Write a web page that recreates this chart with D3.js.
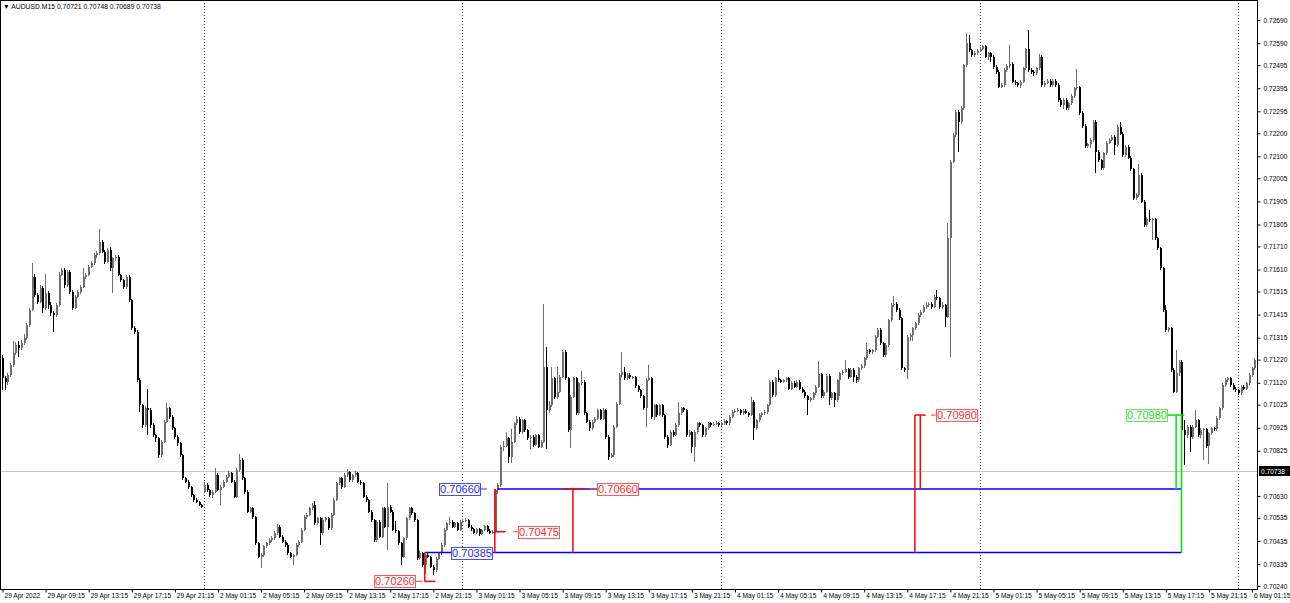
<!DOCTYPE html>
<html>
<head>
<meta charset="utf-8">
<script src="https://cdn.jsdelivr.net/npm/d3@7"></script>
<style>
  body { margin: 0; background: #fff; }
  svg { display: block; }
</style>
</head>
<body>
<div class="container"></div>
<script>
// canvas size and plot frame
const width = 1290;
const height = 603;
const frame = { left: 0.5, top: 0.5, right: 1257.5, bottom: 589.5 };

const titleText = "\u25BC AUDUSD.M15  0.70721 0.70748 0.70689 0.70738";

// M15 bars, 29 Apr 2022 05:15 onwards (index = bar number)
const opens = [0.71226,0.71139,0.71125,0.71154,0.71197,0.71247,0.71284,0.71269,0.71291,0.71312,
0.71370,0.71435,0.71579,0.71500,0.71471,0.71529,0.71442,0.71507,0.71457,0.71421,
0.71413,0.71457,0.71587,0.71608,0.71543,0.71601,0.71514,0.71442,0.71493,0.71514,
0.71536,0.71579,0.71587,0.71623,0.71637,0.71673,0.71680,0.71731,0.71688,0.71644,
0.71695,0.71615,0.71659,0.71666,0.71587,0.71565,0.71536,0.71579,0.71478,0.71356,
0.71341,0.71132,0.71024,0.70937,0.71009,0.71002,0.70937,0.70894,0.70879,0.70807,
0.70865,0.70952,0.71009,0.70973,0.70923,0.70887,0.70858,0.70807,0.70706,0.70692,
0.70670,0.70634,0.70613,0.70605,0.70591,0.70649,0.70677,0.70656,0.70634,0.70649,
0.70721,0.70656,0.70670,0.70692,0.70714,0.70728,0.70692,0.70627,0.70742,0.70786,
0.70706,0.70649,0.70562,0.70576,0.70540,0.70425,0.70367,0.70374,0.70411,0.70425,
0.70439,0.70447,0.70468,0.70497,0.70454,0.70432,0.70418,0.70382,0.70367,0.70374,
0.70418,0.70432,0.70483,0.70540,0.70548,0.70576,0.70591,0.70512,0.70533,0.70468,
0.70526,0.70533,0.70490,0.70548,0.70613,0.70685,0.70706,0.70670,0.70721,0.70735,
0.70699,0.70721,0.70728,0.70692,0.70685,0.70627,0.70613,0.70562,0.70526,0.70439,
0.70519,0.70454,0.70576,0.70497,0.70584,0.70562,0.70483,0.70476,0.70425,0.70367,
0.70447,0.70533,0.70576,0.70555,0.70526,0.70360,0.70381,0.70331,0.70374,0.70367,
0.70323,0.70309,0.70359,0.70381,0.70417,0.70482,0.70511,0.70518,0.70496,0.70511,
0.70482,0.70518,0.70522,0.70525,0.70496,0.70485,0.70471,0.70485,0.70465,0.70482,
0.70499,0.70479,0.70471,0.70475,0.70655,0.70677,0.70843,0.70846,0.70879,0.70799,
0.70864,0.70944,0.70965,0.70908,0.70958,0.70915,0.70879,0.70886,0.70850,0.70893,
0.70843,0.70864,0.71189,0.71002,0.71023,0.71139,0.71059,0.71081,0.71146,0.71254,
0.71139,0.70915,0.71059,0.71139,0.70987,0.71117,0.71124,0.70987,0.70951,0.70922,
0.70951,0.70965,0.71002,0.70965,0.71002,0.70886,0.70799,0.70807,0.70929,0.71030,
0.71153,0.71167,0.71139,0.71153,0.71143,0.71143,0.71105,0.71088,0.71062,0.71009,
0.71134,0.71139,0.70973,0.71023,0.70980,0.71023,0.70980,0.70886,0.70850,0.70908,
0.70893,0.70937,0.70987,0.71009,0.71002,0.70893,0.70908,0.70843,0.70908,0.70944,
0.70937,0.70893,0.70922,0.70944,0.70937,0.70941,0.70947,0.70937,0.70944,0.70954,
0.70944,0.70973,0.70994,0.70999,0.71002,0.70987,0.70999,0.70990,0.70980,0.71038,
0.70922,0.70958,0.70980,0.70987,0.70994,0.71023,0.71124,0.71066,0.71139,0.71131,
0.71124,0.71131,0.71139,0.71095,0.71120,0.71103,0.71124,0.71095,0.71081,0.71062,
0.71045,0.71052,0.71074,0.71103,0.71157,0.71062,0.71081,0.71149,0.71052,0.71074,
0.71045,0.71131,0.71160,0.71168,0.71178,0.71146,0.71175,0.71146,0.71132,0.71182,
0.71192,0.71225,0.71261,0.71254,0.71261,0.71319,0.71348,0.71290,0.71240,0.71283,
0.71391,0.71456,0.71463,0.71435,0.71399,0.71182,0.71175,0.71319,0.71326,0.71355,
0.71377,0.71413,0.71427,0.71449,0.71456,0.71463,0.71449,0.71492,0.71485,0.71449,
0.71456,0.71406,0.71745,0.72077,0.72192,0.72293,0.72250,0.72308,0.72495,0.72589,
0.72560,0.72538,0.72549,0.72557,0.72567,0.72577,0.72531,0.72546,0.72531,0.72488,
0.72466,0.72401,0.72409,0.72474,0.72491,0.72502,0.72423,0.72416,0.72409,0.72423,
0.72481,0.72563,0.72474,0.72466,0.72459,0.72481,0.72531,0.72409,0.72419,0.72427,
0.72409,0.72427,0.72409,0.72344,0.72322,0.72344,0.72308,0.72329,0.72361,0.72394,
0.72399,0.72289,0.72231,0.72145,0.72153,0.72171,0.72250,0.72120,0.72084,0.72048,
0.72113,0.72159,0.72173,0.72185,0.72149,0.72228,0.72199,0.72106,0.72142,0.72095,
0.72044,0.71918,0.71932,0.72019,0.71904,0.71803,0.71831,0.71824,0.71827,0.71745,
0.71702,0.71615,0.71435,0.71348,0.71355,0.71175,0.71081,0.71160,0.71211,0.70915,
0.70893,0.70930,0.70886,0.70930,0.70958,0.70893,0.70915,0.70918,0.70846,0.70901,
0.70922,0.70918,0.70966,0.71009,0.71110,0.71132,0.71139,0.71110,0.71095,0.71088,
0.71074,0.71103,0.71095,0.71117,0.71153,0.71182];

const highs = [0.71240,0.71150,0.71160,0.71205,0.71300,0.71295,0.71300,0.71305,0.71330,0.71378,
0.71445,0.71637,0.71590,0.71510,0.71545,0.71540,0.71590,0.71515,0.71470,0.71430,
0.71465,0.71600,0.71615,0.71615,0.71610,0.71610,0.71520,0.71500,0.71520,0.71545,
0.71615,0.71595,0.71630,0.71645,0.71680,0.71690,0.71785,0.71740,0.71695,0.71705,
0.71706,0.71666,0.71675,0.71672,0.71592,0.71570,0.71585,0.71585,0.71482,0.71365,
0.71350,0.71140,0.71030,0.71020,0.71094,0.71010,0.70945,0.70900,0.70885,0.70872,
0.70958,0.71031,0.71015,0.70980,0.70930,0.70895,0.70862,0.70812,0.70712,0.70698,
0.70675,0.70640,0.70620,0.70610,0.70596,0.70690,0.70684,0.70662,0.70656,0.70750,
0.70728,0.70678,0.70700,0.70722,0.70736,0.70734,0.70698,0.70750,0.70810,0.70792,
0.70712,0.70655,0.70584,0.70582,0.70545,0.70430,0.70382,0.70418,0.70432,0.70446,
0.70455,0.70476,0.70508,0.70502,0.70460,0.70438,0.70424,0.70388,0.70380,0.70424,
0.70440,0.70490,0.70548,0.70556,0.70584,0.70600,0.70608,0.70540,0.70540,0.70534,
0.70540,0.70538,0.70556,0.70620,0.70692,0.70714,0.70712,0.70728,0.70745,0.70740,
0.70727,0.70736,0.70734,0.70698,0.70690,0.70634,0.70618,0.70568,0.70530,0.70526,
0.70524,0.70582,0.70584,0.70684,0.70590,0.70568,0.70520,0.70482,0.70430,0.70452,
0.70540,0.70584,0.70582,0.70562,0.70532,0.70392,0.70386,0.70380,0.70382,0.70372,
0.70330,0.70366,0.70388,0.70424,0.70490,0.70518,0.70540,0.70524,0.70518,0.70516,
0.70525,0.70530,0.70534,0.70530,0.70502,0.70490,0.70492,0.70490,0.70488,0.70506,
0.70504,0.70486,0.70482,0.70662,0.70684,0.70850,0.70868,0.70905,0.70884,0.70920,
0.70952,0.70975,0.70970,0.70965,0.70962,0.70920,0.70892,0.70892,0.70900,0.70898,
0.70870,0.71463,0.71275,0.71040,0.71189,0.71146,0.71186,0.71155,0.71262,0.71260,
0.71145,0.71066,0.71146,0.71146,0.71124,0.71170,0.71130,0.70992,0.70958,0.70958,
0.70972,0.71008,0.71008,0.71010,0.71008,0.70892,0.70815,0.70936,0.71038,0.71160,
0.71254,0.71190,0.71160,0.71160,0.71150,0.71150,0.71112,0.71095,0.71068,0.71140,
0.71196,0.71145,0.71030,0.71030,0.71030,0.71028,0.70986,0.70892,0.70915,0.70915,
0.70944,0.71038,0.71016,0.71016,0.71008,0.70915,0.70912,0.70915,0.70950,0.70952,
0.70942,0.70930,0.70950,0.70950,0.70948,0.70954,0.70952,0.70952,0.70962,0.70960,
0.70980,0.71000,0.71006,0.71010,0.71008,0.71006,0.71006,0.70995,0.71060,0.71044,
0.70965,0.70988,0.70995,0.71002,0.71030,0.71132,0.71130,0.71146,0.71175,0.71138,
0.71138,0.71146,0.71146,0.71127,0.71127,0.71130,0.71130,0.71102,0.71088,0.71068,
0.71060,0.71080,0.71110,0.71214,0.71164,0.71088,0.71156,0.71156,0.71080,0.71080,
0.71138,0.71168,0.71175,0.71218,0.71184,0.71182,0.71182,0.71152,0.71190,0.71200,
0.71232,0.71290,0.71268,0.71268,0.71326,0.71356,0.71355,0.71296,0.71290,0.71398,
0.71464,0.71495,0.71470,0.71442,0.71405,0.71190,0.71326,0.71334,0.71362,0.71384,
0.71420,0.71434,0.71456,0.71470,0.71470,0.71470,0.71500,0.71520,0.71492,0.71470,
0.71462,0.71810,0.72085,0.72200,0.72300,0.72300,0.72316,0.72502,0.72632,0.72625,
0.72566,0.72556,0.72564,0.72574,0.72584,0.72584,0.72553,0.72553,0.72538,0.72494,
0.72472,0.72416,0.72481,0.72498,0.72582,0.72510,0.72430,0.72424,0.72430,0.72488,
0.72570,0.72647,0.72481,0.72474,0.72488,0.72545,0.72538,0.72426,0.72434,0.72434,
0.72434,0.72434,0.72416,0.72351,0.72351,0.72351,0.72336,0.72368,0.72402,0.72480,
0.72406,0.72296,0.72238,0.72160,0.72178,0.72257,0.72257,0.72128,0.72090,0.72120,
0.72166,0.72180,0.72192,0.72192,0.72236,0.72250,0.72206,0.72149,0.72149,0.72102,
0.72050,0.71940,0.72065,0.72026,0.71910,0.71838,0.71866,0.71834,0.71834,0.71752,
0.71708,0.71622,0.71456,0.71362,0.71362,0.71182,0.71260,0.71218,0.71218,0.70960,
0.70938,0.70936,0.70938,0.71002,0.70965,0.70922,0.70925,0.70925,0.70908,0.70930,
0.70930,0.70974,0.71016,0.71118,0.71140,0.71146,0.71146,0.71118,0.71102,0.71095,
0.71110,0.71110,0.71124,0.71160,0.71190,0.71226];

const lows = [0.71089,0.71089,0.71110,0.71145,0.71190,0.71240,0.71233,0.71260,0.71285,0.71305,
0.71360,0.71430,0.71490,0.71460,0.71465,0.71420,0.71435,0.71440,0.71410,0.71341,
0.71405,0.71450,0.71580,0.71530,0.71535,0.71505,0.71435,0.71438,0.71485,0.71505,
0.71530,0.71570,0.71580,0.71615,0.71630,0.71660,0.71675,0.71680,0.71635,0.71640,
0.71605,0.71508,0.71645,0.71580,0.71555,0.71525,0.71525,0.71470,0.71350,0.71330,
0.71125,0.70995,0.70925,0.70930,0.70894,0.70925,0.70885,0.70865,0.70793,0.70800,
0.70858,0.70945,0.70965,0.70915,0.70878,0.70848,0.70800,0.70700,0.70685,0.70662,
0.70625,0.70605,0.70598,0.70585,0.70578,0.70642,0.70648,0.70626,0.70620,0.70644,
0.70650,0.70591,0.70664,0.70686,0.70708,0.70685,0.70620,0.70620,0.70735,0.70700,
0.70640,0.70555,0.70555,0.70532,0.70418,0.70360,0.70317,0.70366,0.70404,0.70418,
0.70432,0.70440,0.70462,0.70446,0.70424,0.70410,0.70374,0.70360,0.70331,0.70368,
0.70410,0.70426,0.70478,0.70532,0.70542,0.70568,0.70505,0.70505,0.70418,0.70462,
0.70515,0.70484,0.70484,0.70542,0.70606,0.70676,0.70662,0.70664,0.70714,0.70692,
0.70692,0.70714,0.70685,0.70678,0.70620,0.70605,0.70555,0.70518,0.70432,0.70432,
0.70446,0.70448,0.70490,0.70396,0.70555,0.70476,0.70468,0.70418,0.70331,0.70360,
0.70440,0.70526,0.70548,0.70518,0.70352,0.70352,0.70324,0.70294,0.70360,0.70316,
0.70287,0.70302,0.70352,0.70374,0.70410,0.70476,0.70504,0.70490,0.70490,0.70476,
0.70476,0.70512,0.70515,0.70490,0.70478,0.70464,0.70466,0.70458,0.70460,0.70476,
0.70472,0.70464,0.70466,0.70470,0.70640,0.70670,0.70825,0.70840,0.70771,0.70771,
0.70858,0.70935,0.70900,0.70900,0.70908,0.70870,0.70835,0.70842,0.70845,0.70836,
0.70836,0.70858,0.70835,0.70990,0.71015,0.71050,0.71050,0.71075,0.71140,0.71130,
0.70905,0.70836,0.71052,0.70980,0.70980,0.71110,0.70980,0.70944,0.70912,0.70915,
0.70944,0.70958,0.70958,0.70958,0.70878,0.70785,0.70792,0.70800,0.70922,0.71022,
0.71146,0.71132,0.71130,0.71136,0.71136,0.71098,0.71080,0.71055,0.71000,0.70929,
0.71126,0.70965,0.70960,0.70972,0.70975,0.70972,0.70878,0.70836,0.70845,0.70886,
0.70888,0.70930,0.70980,0.70995,0.70886,0.70886,0.70814,0.70778,0.70900,0.70930,
0.70886,0.70886,0.70915,0.70930,0.70932,0.70936,0.70930,0.70932,0.70938,0.70938,
0.70938,0.70966,0.70988,0.70992,0.70980,0.70980,0.70984,0.70972,0.70975,0.70872,
0.70915,0.70952,0.70972,0.70980,0.70986,0.71018,0.71058,0.71060,0.71124,0.71117,
0.71117,0.71124,0.71088,0.71088,0.71096,0.71096,0.71088,0.71074,0.71055,0.70980,
0.71038,0.71045,0.71068,0.71096,0.71055,0.71055,0.71074,0.71023,0.71045,0.71016,
0.71038,0.71062,0.71152,0.71160,0.71138,0.71140,0.71125,0.71120,0.71125,0.71175,
0.71185,0.71218,0.71246,0.71246,0.71254,0.71312,0.71282,0.71232,0.71232,0.71276,
0.71384,0.71448,0.71428,0.71392,0.71175,0.71166,0.71138,0.71300,0.71300,0.71348,
0.71370,0.71405,0.71420,0.71440,0.71448,0.71440,0.71442,0.71478,0.71440,0.71440,
0.71362,0.71400,0.71233,0.72070,0.72186,0.72120,0.72242,0.72300,0.72488,0.72552,
0.72530,0.72530,0.72540,0.72550,0.72560,0.72524,0.72516,0.72510,0.72480,0.72458,
0.72394,0.72394,0.72402,0.72466,0.72484,0.72416,0.72408,0.72402,0.72394,0.72416,
0.72474,0.72466,0.72458,0.72450,0.72452,0.72474,0.72402,0.72402,0.72412,0.72402,
0.72402,0.72402,0.72336,0.72314,0.72304,0.72300,0.72300,0.72322,0.72354,0.72387,
0.72279,0.72224,0.72138,0.72138,0.72138,0.72164,0.72026,0.72076,0.72040,0.72040,
0.72106,0.72152,0.72166,0.72106,0.72142,0.72192,0.72098,0.72098,0.72088,0.72036,
0.71910,0.71910,0.71925,0.71896,0.71796,0.71796,0.71816,0.71740,0.71738,0.71694,
0.71608,0.71428,0.71340,0.71340,0.71168,0.71074,0.71074,0.71150,0.70814,0.70764,
0.70880,0.70820,0.70878,0.70922,0.70886,0.70880,0.70785,0.70838,0.70770,0.70895,
0.70910,0.70910,0.70958,0.71000,0.71102,0.71124,0.71102,0.71088,0.71080,0.71066,
0.71066,0.71088,0.71088,0.71110,0.71146,0.71175];

const closes = [0.71139,0.71125,0.71154,0.71197,0.71247,0.71284,0.71269,0.71291,0.71312,0.71370,
0.71435,0.71579,0.71500,0.71471,0.71529,0.71442,0.71507,0.71457,0.71421,0.71413,
0.71457,0.71587,0.71608,0.71543,0.71601,0.71514,0.71442,0.71493,0.71514,0.71536,
0.71579,0.71587,0.71623,0.71637,0.71673,0.71680,0.71731,0.71688,0.71644,0.71695,
0.71615,0.71659,0.71666,0.71587,0.71565,0.71536,0.71579,0.71478,0.71356,0.71341,
0.71132,0.71024,0.70937,0.71009,0.71002,0.70937,0.70894,0.70879,0.70807,0.70865,
0.70952,0.71009,0.70973,0.70923,0.70887,0.70858,0.70807,0.70706,0.70692,0.70670,
0.70634,0.70613,0.70605,0.70591,0.70584,0.70677,0.70656,0.70634,0.70649,0.70721,
0.70656,0.70670,0.70692,0.70714,0.70728,0.70692,0.70627,0.70742,0.70786,0.70706,
0.70649,0.70562,0.70576,0.70540,0.70425,0.70367,0.70374,0.70411,0.70425,0.70439,
0.70447,0.70468,0.70497,0.70454,0.70432,0.70418,0.70382,0.70367,0.70374,0.70418,
0.70432,0.70483,0.70540,0.70548,0.70576,0.70591,0.70512,0.70533,0.70468,0.70526,
0.70533,0.70490,0.70548,0.70613,0.70685,0.70706,0.70670,0.70721,0.70735,0.70699,
0.70721,0.70728,0.70692,0.70685,0.70627,0.70613,0.70562,0.70526,0.70439,0.70519,
0.70454,0.70576,0.70497,0.70584,0.70562,0.70483,0.70476,0.70425,0.70367,0.70447,
0.70533,0.70576,0.70555,0.70526,0.70360,0.70381,0.70331,0.70374,0.70367,0.70323,
0.70309,0.70359,0.70381,0.70417,0.70482,0.70511,0.70518,0.70496,0.70511,0.70482,
0.70518,0.70522,0.70525,0.70496,0.70485,0.70471,0.70485,0.70465,0.70482,0.70499,
0.70479,0.70471,0.70475,0.70655,0.70677,0.70843,0.70846,0.70879,0.70799,0.70864,
0.70944,0.70965,0.70908,0.70958,0.70915,0.70879,0.70886,0.70850,0.70893,0.70843,
0.70864,0.71189,0.71002,0.71023,0.71139,0.71059,0.71081,0.71146,0.71254,0.71139,
0.70915,0.71059,0.71139,0.70987,0.71117,0.71124,0.70987,0.70951,0.70922,0.70951,
0.70965,0.71002,0.70965,0.71002,0.70886,0.70799,0.70807,0.70929,0.71030,0.71153,
0.71167,0.71139,0.71153,0.71143,0.71143,0.71105,0.71088,0.71062,0.71009,0.71134,
0.71139,0.70973,0.71023,0.70980,0.71023,0.70980,0.70886,0.70850,0.70908,0.70893,
0.70937,0.70987,0.71009,0.71002,0.70893,0.70908,0.70843,0.70908,0.70944,0.70937,
0.70893,0.70922,0.70944,0.70937,0.70941,0.70947,0.70937,0.70944,0.70954,0.70944,
0.70973,0.70994,0.70999,0.71002,0.70987,0.70999,0.70990,0.70980,0.71038,0.70922,
0.70958,0.70980,0.70987,0.70994,0.71023,0.71124,0.71066,0.71139,0.71131,0.71124,
0.71131,0.71139,0.71095,0.71120,0.71103,0.71124,0.71095,0.71081,0.71062,0.71045,
0.71052,0.71074,0.71103,0.71157,0.71062,0.71081,0.71149,0.71052,0.71074,0.71045,
0.71131,0.71160,0.71168,0.71178,0.71146,0.71175,0.71146,0.71132,0.71182,0.71192,
0.71225,0.71261,0.71254,0.71261,0.71319,0.71348,0.71290,0.71240,0.71283,0.71391,
0.71456,0.71463,0.71435,0.71399,0.71182,0.71175,0.71319,0.71326,0.71355,0.71377,
0.71413,0.71427,0.71449,0.71456,0.71463,0.71449,0.71492,0.71485,0.71449,0.71456,
0.71406,0.71745,0.72077,0.72192,0.72293,0.72250,0.72308,0.72495,0.72589,0.72560,
0.72538,0.72549,0.72557,0.72567,0.72577,0.72531,0.72546,0.72531,0.72488,0.72466,
0.72401,0.72409,0.72474,0.72491,0.72502,0.72423,0.72416,0.72409,0.72423,0.72481,
0.72563,0.72474,0.72466,0.72459,0.72481,0.72531,0.72409,0.72419,0.72427,0.72409,
0.72427,0.72409,0.72344,0.72322,0.72344,0.72308,0.72329,0.72361,0.72394,0.72399,
0.72289,0.72231,0.72145,0.72153,0.72171,0.72250,0.72120,0.72084,0.72048,0.72113,
0.72159,0.72173,0.72185,0.72149,0.72228,0.72199,0.72106,0.72142,0.72095,0.72044,
0.71918,0.71932,0.72019,0.71904,0.71803,0.71831,0.71824,0.71827,0.71745,0.71702,
0.71615,0.71435,0.71348,0.71355,0.71175,0.71081,0.71160,0.71211,0.70915,0.70893,
0.70930,0.70886,0.70930,0.70958,0.70893,0.70915,0.70918,0.70846,0.70901,0.70922,
0.70918,0.70966,0.71009,0.71110,0.71132,0.71139,0.71110,0.71095,0.71088,0.71074,
0.71103,0.71095,0.71117,0.71153,0.71182,0.71218];

// bottom time axis: bar index and label
const timeTickBars = [0,16,32,48,64,80,96,112,128,144,160,176,192,208,224,240,256,272,288,304,320,336,352,368,384,400,416,432,448,464];
const timeTickLabels = ["29 Apr 2022","29 Apr 09:15","29 Apr 13:15","29 Apr 17:15","29 Apr 21:15",
  "2 May 01:15","2 May 05:15","2 May 09:15","2 May 13:15","2 May 17:15","2 May 21:15",
  "3 May 01:15","3 May 05:15","3 May 09:15","3 May 13:15","3 May 17:15","3 May 21:15",
  "4 May 01:15","4 May 05:15","4 May 09:15","4 May 13:15","4 May 17:15","4 May 21:15",
  "5 May 01:15","5 May 05:15","5 May 09:15","5 May 13:15","5 May 17:15","5 May 21:15",
  "6 May 01:15"];

// right price axis
const priceTicks = [0.72690,0.72590,0.72495,0.72395,0.72295,0.72200,0.72100,0.72005,0.71905,0.71805,
  0.71710,0.71610,0.71515,0.71415,0.71315,0.71220,0.71120,0.71025,0.70925,0.70825,
  0.70630,0.70535,0.70435,0.70335,0.70240];
const currentPrice = 0.70738;

// day separators (bar index of 00:00)
const dayStartBars = [75, 171, 267, 363, 459];

// indicator objects
const levelPrices = [0.70660, 0.70385];
const levelStartBars = [184, 157];
const levelEndBar = 438;

const red = "#ff0000", blue = "#0000ff", green = "#00e000";

// bracket lines: [bar, price from, price to]
const redStems = [[157, 0.70385, 0.70260], [183, 0.70660, 0.70385], [212, 0.70660, 0.70385],
  [339, 0.70980, 0.70385], [341, 0.70980, 0.70660]];
const greenStems = [[436, 0.70980, 0.70660], [438, 0.70980, 0.70385]];
// short horizontal feet: [bar from, bar to, price]
const redFeet = [[157, 161, 0.70260], [183, 187, 0.70475], [208.3, 215.7, 0.70660], [339, 343, 0.70980]];
const greenFeet = [[432.7, 439, 0.70980]];

// price labels: text, price, anchor bar, side
const priceLabels = [
  { text: "0.70260", price: 0.70260, bar: 157, side: "left", gap: 10, dash: 8, color: "red" },
  { text: "0.70660", price: 0.70660, bar: 183, side: "left", gap: 15, dash: 7, color: "blue" },
  { text: "0.70385", price: 0.70385, bar: 183, side: "left", gap: 3, dash: 0, color: "blue" },
  { text: "0.70475", price: 0.70475, bar: 183, side: "right", gap: 23, dash: 5, color: "red" },
  { text: "0.70660", price: 0.70660, bar: 212, side: "right", gap: 24, dash: 7, color: "red" },
  { text: "0.70980", price: 0.70980, bar: 339, side: "right", gap: 21, dash: 5, color: "red" },
  { text: "0.70980", price: 0.70980, bar: 436, side: "left", gap: 9, dash: 0, color: "green" }
];
const labelStyle = {
  red: { text: "#ff2a2a", border: "#ff5a5a" },
  blue: { text: "#2a2aff", border: "#4a4aff" },
  green: { text: "#22dd22", border: "#55ee55" }
};

const n = Math.min(opens.length, highs.length, lows.length, closes.length);
const bars = d3.range(n).map(i => ({ i, o: opens[i], h: highs[i], l: lows[i], c: closes[i] }));

const svg = d3.select(".container")
  .append("svg")
  .attr("width", width)
  .attr("height", height)
  .style("font-family", "'Liberation Sans', Arial, sans-serif");

svg.append("rect").attr("width", width).attr("height", height).attr("fill", "#fff");

// scales
const xScale = d3.scaleLinear()
  .domain([0, 465])
  .range([2, 1254.2]);

const yScale = d3.scaleLinear()
  .domain([0.70227, 0.72777])
  .range([589, 0]);

const plotArea = svg.append("g");

// day separators
plotArea.append("g")
  .selectAll("line")
  .data(dayStartBars)
  .join("line")
  .attr("x1", d => Math.round(xScale(d)) + 0.5)
  .attr("x2", d => Math.round(xScale(d)) + 0.5)
  .attr("y1", 0)
  .attr("y2", 589)
  .attr("stroke", "#444")
  .attr("stroke-dasharray", "1,2");

// current price line
plotArea.append("line")
  .attr("x1", 0)
  .attr("x2", 1257)
  .attr("y1", Math.round(yScale(currentPrice)) + 0.5)
  .attr("y2", Math.round(yScale(currentPrice)) + 0.5)
  .attr("stroke", "#c8c8c8");

// candles
const bullColor = "#6e6e6e", bearColor = "#000";
const candle = plotArea.append("g")
  .attr("shape-rendering", "crispEdges")
  .selectAll("g")
  .data(bars)
  .join("g");

candle.append("rect")
  .attr("x", d => Math.round(xScale(d.i)))
  .attr("y", d => Math.round(yScale(d.h)))
  .attr("width", 1)
  .attr("height", d => Math.max(1, Math.round(yScale(d.l)) - Math.round(yScale(d.h))))
  .attr("fill", d => d.c >= d.o ? bullColor : bearColor);

candle.append("rect")
  .attr("x", d => Math.round(xScale(d.i)))
  .attr("y", d => Math.round(yScale(Math.max(d.o, d.c))))
  .attr("width", 2)
  .attr("height", d => Math.max(1, Math.round(yScale(Math.min(d.o, d.c))) - Math.round(yScale(Math.max(d.o, d.c)))))
  .attr("fill", d => d.c >= d.o ? bullColor : bearColor);

// blue levels
plotArea.append("g")
  .selectAll("line")
  .data(levelPrices)
  .join("line")
  .attr("x1", (d, i) => xScale(levelStartBars[i]))
  .attr("x2", xScale(levelEndBar))
  .attr("y1", d => yScale(d))
  .attr("y2", d => yScale(d))
  .attr("stroke", blue)
  .attr("stroke-width", 1.6);

function drawStems(list, color) {
  plotArea.append("g")
    .selectAll("line")
    .data(list)
    .join("line")
    .attr("x1", d => xScale(d[0]))
    .attr("x2", d => xScale(d[0]))
    .attr("y1", d => yScale(d[1]))
    .attr("y2", d => yScale(d[2]))
    .attr("stroke", color)
    .attr("stroke-width", 1.5);
}
function drawFeet(list, color) {
  plotArea.append("g")
    .selectAll("line")
    .data(list)
    .join("line")
    .attr("x1", d => xScale(d[0]))
    .attr("x2", d => xScale(d[1]))
    .attr("y1", d => yScale(d[2]))
    .attr("y2", d => yScale(d[2]))
    .attr("stroke", color)
    .attr("stroke-width", 1.5);
}
drawStems(redStems, red);
drawFeet(redFeet, red);
drawStems(greenStems, green);
drawFeet(greenFeet, green);

// price label boxes
const boxW = 41, boxH = 12;
priceLabels.forEach(p => {
  const st = labelStyle[p.color];
  const ax = xScale(p.bar);
  const cy = yScale(p.price);
  const bx = p.side === "left" ? ax - p.gap - boxW : ax + p.gap;
  if (p.dash > 0) {
    const dx = p.side === "left" ? bx + boxW : bx - p.dash;
    plotArea.append("line")
      .attr("x1", dx).attr("x2", dx + p.dash)
      .attr("y1", cy).attr("y2", cy)
      .attr("stroke", st.border).attr("stroke-width", 1.2);
  }
  plotArea.append("rect")
    .attr("x", Math.round(bx) + 0.5)
    .attr("y", Math.round(cy - boxH / 2) + 0.5)
    .attr("width", boxW)
    .attr("height", boxH)
    .attr("fill", "#fff")
    .attr("stroke", st.border);
  plotArea.append("text")
    .attr("x", Math.round(bx) + 0.5 + boxW / 2)
    .attr("y", cy + 4)
    .attr("text-anchor", "middle")
    .attr("font-size", "11px")
    .attr("fill", st.text)
    .text(p.text);
});

// frame
svg.append("rect")
  .attr("x", frame.left)
  .attr("y", frame.top)
  .attr("width", frame.right - frame.left)
  .attr("height", frame.bottom - frame.top)
  .attr("fill", "none")
  .attr("stroke", "#000");

// right price axis
const yAxis = svg.append("g")
  .attr("transform", "translate(1257.5,0)")
  .call(d3.axisRight(yScale)
    .tickValues(priceTicks)
    .tickSize(3)
    .tickPadding(3)
    .tickFormat(d3.format(".5f")));
yAxis.select(".domain").remove();
yAxis.selectAll("text").attr("font-size", "6.6px").attr("font-family", "'Liberation Sans', Arial, sans-serif").attr("fill", "#000");
yAxis.selectAll("line").attr("stroke", "#000");

// current price tag
const cpY = Math.round(yScale(currentPrice));
svg.append("rect")
  .attr("x", 1259)
  .attr("y", cpY - 5)
  .attr("width", 31)
  .attr("height", 10)
  .attr("fill", "#000");
svg.append("text")
  .attr("x", 1261)
  .attr("y", cpY + 2.5)
  .attr("font-size", "6.6px")
  .attr("fill", "#fff")
  .text(d3.format(".5f")(currentPrice));

// bottom time axis
const xAxis = svg.append("g")
  .attr("transform", "translate(0,589.5)")
  .call(d3.axisBottom(xScale)
    .tickValues(timeTickBars)
    .tickSize(3)
    .tickFormat((d, i) => timeTickLabels[i]));
xAxis.select(".domain").remove();
xAxis.selectAll("line").attr("stroke", "#000").attr("transform", "translate(0.5,0)");
xAxis.selectAll("text")
  .attr("text-anchor", "start")
  .attr("x", 2)
  .attr("y", 3)
  .attr("dy", "0.8em")
  .attr("font-size", "6.6px")
  .attr("font-family", "'Liberation Sans', Arial, sans-serif")
  .attr("fill", "#000");

// title
svg.append("text")
  .attr("x", 3)
  .attr("y", 9)
  .attr("font-size", "6.8px")
  .attr("fill", "#000")
  .text(titleText);
</script>
</body>
</html>
